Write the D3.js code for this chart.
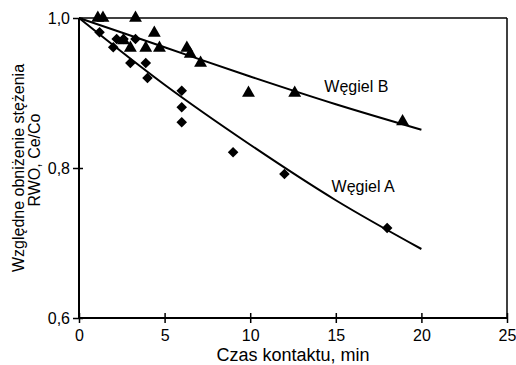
<!DOCTYPE html>
<html>
<head>
<meta charset="utf-8">
<script src="https://d3js.org/d3.v7.min.js"></script>
<style>
  body { margin: 0; background: #fff; }
  text { font-family: "Liberation Sans", Arial, sans-serif; fill: #000; }
</style>
</head>
<body>
<div id="chart"></div>
<script>
// Węgiel A (diamonds) - czas [min], Ce/Co
const timeA = [1.2, 2.0, 2.2, 2.6, 3.3, 3.0, 3.9, 4.0, 6.0, 6.0, 6.0, 9.0, 12.0, 18.0];
const valA  = [0.981, 0.961, 0.972, 0.972, 0.972, 0.94, 0.94, 0.92, 0.903, 0.881, 0.861, 0.821, 0.792, 0.72];
// Węgiel B (triangles)
const timeB = [1.1, 1.4, 3.3, 4.4, 2.6, 3.0, 3.9, 4.7, 6.3, 6.5, 7.1, 9.9, 12.6, 18.9];
const valB  = [1.0, 1.0, 1.0, 0.98, 0.97, 0.96, 0.96, 0.96, 0.96, 0.952, 0.94, 0.90, 0.90, 0.862];
// fitted curves
const fitTime = [0, 5, 10, 15, 20];
const fitA = [1.0, 0.911, 0.831, 0.757, 0.692];
const fitB = [1.0, 0.961, 0.922, 0.885, 0.851];
const xTicks = [0, 5, 10, 15, 20, 25];
const yTicks = [0.6, 0.8, 1.0];

const W = 516, H = 365;
const margin = { top: 18, right: 9, bottom: 47, left: 79 };
const width = W - margin.left - margin.right;
const height = H - margin.top - margin.bottom;

const svg = d3.select("#chart").append("svg")
  .attr("width", W).attr("height", H);
const g = svg.append("g")
  .attr("transform", `translate(${margin.left},${margin.top})`);

const x = d3.scaleLinear().domain([0, 25]).range([0, width]);
const y = d3.scaleLinear().domain([0.6, 1.0]).range([height, 0]);

// ramka: góra i prawa strona
g.append("line").attr("x1", 0).attr("x2", width).attr("y1", 0).attr("y2", 0)
  .attr("stroke", "#000").attr("stroke-width", 1.5);
g.append("line").attr("x1", width).attr("x2", width).attr("y1", 0).attr("y2", height)
  .attr("stroke", "#000").attr("stroke-width", 1.5);

// oś X
const xAxis = g.append("g")
  .attr("transform", `translate(0,${height})`)
  .call(d3.axisBottom(x).tickValues(xTicks).tickFormat(d3.format("d")).tickSize(6).tickPadding(4));
xAxis.selectAll(".tick line").attr("y1", -5).attr("y2", 5).attr("stroke-width", 1.5);
xAxis.selectAll(".tick text").style("font-size", "16px").attr("dy", "0.8em");

// oś Y
const yAxis = g.append("g")
  .call(d3.axisLeft(y).tickValues(yTicks).tickFormat(d => d3.format(".1f")(d).replace(".", ",")).tickSize(6).tickPadding(3));
yAxis.selectAll(".tick line").attr("x1", -6).attr("x2", 4).attr("stroke-width", 1.5);
yAxis.selectAll(".tick text").style("font-size", "16px");

xAxis.select(".domain").attr("stroke-width", 2).attr("d", `M0,0H${width}`);
yAxis.select(".domain").attr("stroke-width", 2).attr("d", `M0,0V${height}`);

// krzywe dopasowania
const line = d3.line().x(d => x(d[0])).y(d => y(d[1])).curve(d3.curveMonotoneX);
g.append("path").datum(fitTime.map((t, i) => [t, fitA[i]]))
  .attr("d", line).attr("fill", "none").attr("stroke", "#000").attr("stroke-width", 2);
g.append("path").datum(fitTime.map((t, i) => [t, fitB[i]]))
  .attr("d", line).attr("fill", "none").attr("stroke", "#000").attr("stroke-width", 2);

// punkty pomiarowe
const diamond = d3.symbol().type(d3.symbolSquare).size(56);
g.selectAll(".ptA").data(timeA.map((t, i) => [t, valA[i]]))
  .enter().append("path").attr("class", "ptA")
  .attr("d", diamond)
  .attr("transform", d => `translate(${x(d[0])},${y(d[1])}) rotate(45)`)
  .attr("fill", "#000");

const tri = d3.symbol().type(d3.symbolTriangle).size(72);
g.selectAll(".ptB").data(timeB.map((t, i) => [t, valB[i]]))
  .enter().append("path").attr("class", "ptB")
  .attr("d", tri)
  .attr("transform", d => `translate(${x(d[0])},${y(d[1])})`)
  .attr("fill", "#000");

// etykiety serii
g.append("text").attr("x", x(16.2)).attr("y", y(0.901)).attr("text-anchor", "middle")
  .style("font-size", "16px").text("Węgiel B");
g.append("text").attr("x", x(16.6)).attr("y", y(0.768)).attr("text-anchor", "middle")
  .style("font-size", "16px").text("Węgiel A");

// tytuły osi
svg.append("text").attr("x", 293).attr("y", 361)
  .attr("text-anchor", "middle").style("font-size", "18px").text("Czas kontaktu, min");

svg.append("text").attr("transform", "translate(24,168) rotate(-90)")
  .attr("text-anchor", "middle").style("font-size", "16px").text("Względne obniżenie stężenia");
svg.append("text").attr("transform", "translate(40,160) rotate(-90)")
  .attr("text-anchor", "middle").style("font-size", "16px").text("RWO, Ce/Co");
</script>
</body>
</html>
